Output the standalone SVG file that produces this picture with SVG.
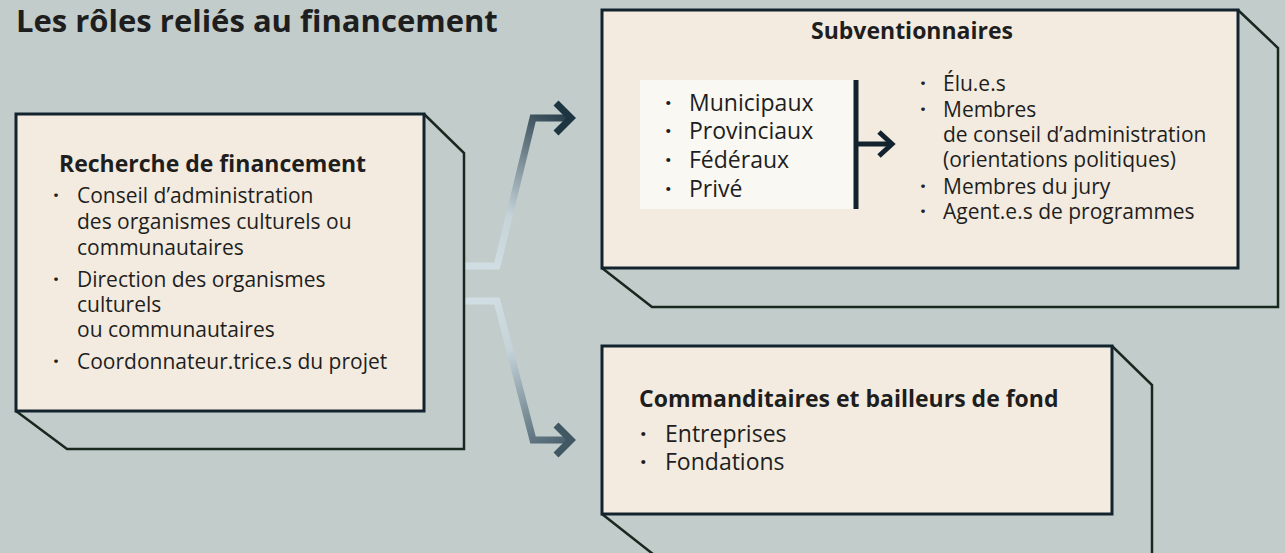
<svg xmlns="http://www.w3.org/2000/svg" width="1285" height="553" viewBox="0 0 1285 553">
<style>
.bg{fill:#c2cccb}
.front{fill:#f3ebdf;stroke:#13232e;stroke-width:3}
.ext{fill:none;stroke:#18281f;stroke-width:2.5;stroke-linejoin:miter}
.t{font-family:"Open Sans","Liberation Sans",sans-serif;fill:#1e1e1e}
.h{font-weight:700;font-size:23px}
.b{font-size:21px}
.bl{font-size:23px}
.d{font-weight:700}
.title{font-weight:700;font-size:31px}
.chev{fill:none;stroke-width:7;stroke-linejoin:miter;stroke-linecap:butt}
</style>
<defs>
<linearGradient id="gUp" gradientUnits="userSpaceOnUse" x1="490" y1="266" x2="576" y2="112">
<stop offset="0" stop-color="#d0dde2"/>
<stop offset="0.3" stop-color="#c6d4da"/>
<stop offset="1" stop-color="#1d3441"/>
</linearGradient>
<linearGradient id="gDn" gradientUnits="userSpaceOnUse" x1="490" y1="301" x2="576" y2="450">
<stop offset="0" stop-color="#d0dde2"/>
<stop offset="0.3" stop-color="#c6d4da"/>
<stop offset="1" stop-color="#3d5562"/>
</linearGradient>
</defs>
<rect class="bg" x="0" y="0" width="1285" height="553"/>
<text class="t title" x="16" y="32">Les rôles reliés au financement</text>

<g id="connectors">
<path d="M464,266 L497,266 L533,118 L568,118" fill="none" stroke="url(#gUp)" stroke-width="7" stroke-linejoin="miter"/>
<path class="chev" d="M556,103 L571,118 L556,133" stroke="#1d3441"/>
<path d="M464,301 L497,301 L533,440 L568,440" fill="none" stroke="url(#gDn)" stroke-width="7" stroke-linejoin="miter"/>
<path class="chev" d="M556,425 L571,440 L556,455" stroke="#3f5864"/>
</g>

<g id="recherche">
<path class="ext" d="M424,114 L464,153 L464,449 L67,449 L16,411"/>
<rect class="front" x="16" y="114" width="408" height="297"/>
<text class="t h" x="59" y="172">Recherche de financement</text>
<g class="t b">
<text y="203"><tspan class="d" x="53">·</tspan><tspan x="77">Conseil d’administration</tspan></text>
<text x="77" y="229">des organismes culturels ou</text>
<text x="77" y="255">communautaires</text>
<text y="287"><tspan class="d" x="53">·</tspan><tspan x="77">Direction des organismes</tspan></text>
<text x="77" y="312">culturels</text>
<text x="77" y="337">ou communautaires</text>
<text y="369"><tspan class="d" x="53">·</tspan><tspan x="77">Coordonnateur.trice.s du projet</tspan></text>
</g>
</g>

<g id="subventionnaires">
<path class="ext" d="M1238,10 L1278,48 L1278,307 L652,307 L602,268"/>
<rect class="front" x="602" y="10" width="636" height="258"/>
<text class="t h" x="912" y="39" text-anchor="middle">Subventionnaires</text>
<rect x="640" y="80" width="214" height="129" fill="#faf8f2"/>
<line x1="856" y1="80" x2="856" y2="209" stroke="#13232d" stroke-width="5"/>
<line x1="856" y1="144" x2="890" y2="144" stroke="#13232d" stroke-width="5"/>
<path d="M879,132 L892,144 L879,156" fill="none" stroke="#13232d" stroke-width="5"/>
<g class="t bl">
<text y="111"><tspan class="d" x="665">·</tspan><tspan x="689">Municipaux</tspan></text>
<text y="139"><tspan class="d" x="665">·</tspan><tspan x="689">Provinciaux</tspan></text>
<text y="168"><tspan class="d" x="665">·</tspan><tspan x="689">Fédéraux</tspan></text>
<text y="197"><tspan class="d" x="665">·</tspan><tspan x="689">Privé</tspan></text>
</g>
<g class="t b">
<text y="91"><tspan class="d" x="920">·</tspan><tspan x="943">Élu.e.s</tspan></text>
<text y="117"><tspan class="d" x="920">·</tspan><tspan x="943">Membres</tspan></text>
<text x="943" y="142">de conseil d’administration</text>
<text x="943" y="167">(orientations politiques)</text>
<text y="194"><tspan class="d" x="920">·</tspan><tspan x="943">Membres du jury</tspan></text>
<text y="219"><tspan class="d" x="920">·</tspan><tspan x="943">Agent.e.s de programmes</tspan></text>
</g>
</g>

<g id="commanditaires">
<path class="ext" d="M1112,346 L1152,385 L1152,558 L658,558 L602,514"/>
<rect class="front" x="602" y="346" width="510" height="168"/>
<text class="t h" x="639" y="407">Commanditaires et bailleurs de fond</text>
<g class="t bl">
<text y="442"><tspan class="d" x="640">·</tspan><tspan x="665">Entreprises</tspan></text>
<text y="470"><tspan class="d" x="640">·</tspan><tspan x="665">Fondations</tspan></text>
</g>
</g>
</svg>
